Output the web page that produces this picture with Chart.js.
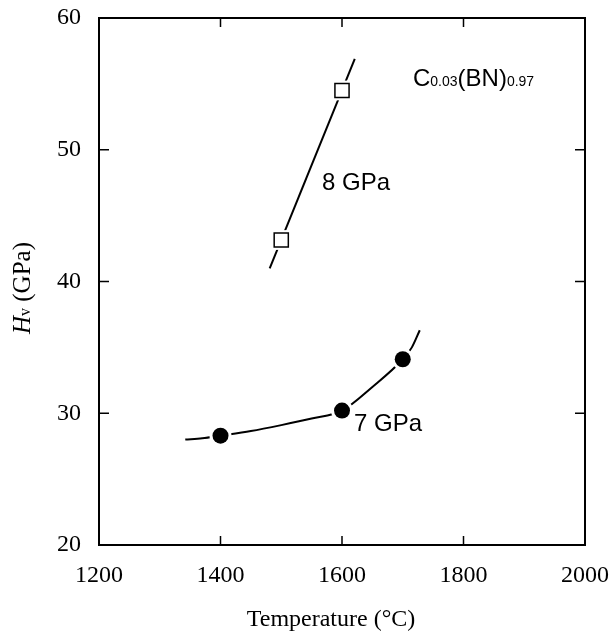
<!DOCTYPE html>
<html>
<head>
<meta charset="utf-8">
<script src="https://cdn.jsdelivr.net/npm/chart.js@4.4.1/dist/chart.umd.min.js"></script>
<style>
  html, body { margin: 0; padding: 0; background: #fff; }
  #wrap { width: 614px; height: 634px; }
</style>
</head>
<body>
<div id="wrap"><canvas id="hvChart" width="614" height="634"></canvas></div>
<script>
// measured points
var temp7 = [1400, 1600, 1700];
var hv7 = [28.3, 30.2, 34.1];
var temp8 = [1500, 1600];
var hv8 = [43.15, 54.5];

// hand-drawn fit curves
var fit7T = [1342, 1370, 1400, 1450, 1500, 1550, 1600, 1650, 1700, 1715, 1728];
var fit7H = [28.0, 28.1, 28.3, 28.65, 29.1, 29.6, 30.2, 32.0, 34.1, 35.0, 36.3];
var fit8T = [1481, 1621];
var fit8H = [41.0, 56.9];

var xTicks = [1200, 1400, 1600, 1800, 2000];
var yTicks = [20, 30, 40, 50, 60];

function pts(xs, ys) {
  return xs.map(function (x, i) { return { x: x, y: ys[i] }; });
}

var serif = '"Liberation Serif", "Times New Roman", serif';
var sans = '"Liberation Sans", Arial, sans-serif';

// inward ticks, frame and labels
var decor = {
  id: 'decor',
  afterDraw: function (chart) {
    var c = chart.ctx, a = chart.chartArea;
    var xs = chart.scales.x, ys = chart.scales.y;
    c.save();
    c.strokeStyle = '#000';
    c.lineWidth = 2;
    c.strokeRect(a.left, a.top, a.right - a.left, a.bottom - a.top);
    c.lineWidth = 1.5;
    c.beginPath();
    xTicks.slice(1, -1).forEach(function (v) {
      var px = xs.getPixelForValue(v);
      c.moveTo(px, a.bottom); c.lineTo(px, a.bottom - 9);
      c.moveTo(px, a.top); c.lineTo(px, a.top + 9);
    });
    yTicks.slice(1, -1).forEach(function (v) {
      var py = ys.getPixelForValue(v);
      c.moveTo(a.left, py); c.lineTo(a.left + 10, py);
      c.moveTo(a.right, py); c.lineTo(a.right - 10, py);
    });
    c.stroke();

    c.fillStyle = '#000';
    c.textBaseline = 'alphabetic';
    c.textAlign = 'left';

    // series labels
    c.font = '24px ' + sans;
    c.fillText('8 GPa', 322, 190);
    c.fillText('7 GPa', 354, 431);

    // composition
    var x = 413, base = 86;
    var parts = [['C', 24], ['0.03', 14], ['(BN)', 24], ['0.97', 14]];
    parts.forEach(function (p) {
      c.font = p[1] + 'px ' + sans;
      c.fillText(p[0], x, base);
      x += c.measureText(p[0]).width;
    });

    // x title
    c.font = '24px ' + serif;
    c.textAlign = 'center';
    c.fillText('Temperature (\u00B0C)', 331, 626);

    // y title (rotated)
    c.translate(30, 288);
    c.rotate(-Math.PI / 2);
    c.textAlign = 'left';
    var segs = [['H', 'italic 25px ' + serif], ['v', '16px ' + serif], [' (GPa)', '25px ' + serif]];
    var total = 0;
    segs.forEach(function (s) { c.font = s[1]; total += c.measureText(s[0]).width; });
    var tx = -total / 2;
    segs.forEach(function (s) {
      c.font = s[1];
      c.fillText(s[0], tx, 0);
      tx += c.measureText(s[0]).width;
    });
    c.restore();
  }
};

function plain(v) { return String(v); }

new Chart(document.getElementById('hvChart'), {
  type: 'scatter',
  data: {
    datasets: [
      {
        label: '7 GPa fit',
        data: pts(fit7T, fit7H),
        showLine: true,
        borderColor: '#000',
        borderWidth: 2,
        pointRadius: 0,
        cubicInterpolationMode: 'monotone',
        order: 5
      },
      {
        label: '8 GPa fit',
        data: pts(fit8T, fit8H),
        showLine: true,
        borderColor: '#000',
        borderWidth: 2,
        pointRadius: 0,
        order: 5
      },
      {
        label: '7 GPa halo',
        data: pts(temp7, hv7),
        pointStyle: 'circle',
        pointRadius: 11,
        backgroundColor: '#fff',
        borderWidth: 0,
        order: 3
      },
      {
        label: '8 GPa halo',
        data: pts(temp8, hv8),
        pointStyle: 'rect',
        pointRadius: 14,
        backgroundColor: '#fff',
        borderWidth: 0,
        order: 3
      },
      {
        label: '7 GPa',
        data: pts(temp7, hv7),
        pointStyle: 'circle',
        pointRadius: 8,
        backgroundColor: '#000',
        borderColor: '#000',
        borderWidth: 0,
        order: 1
      },
      {
        label: '8 GPa',
        data: pts(temp8, hv8),
        pointStyle: 'rect',
        pointRadius: 10,
        backgroundColor: '#fff',
        borderColor: '#000',
        borderWidth: 1.5,
        order: 1
      }
    ]
  },
  options: {
    responsive: false,
    animation: false,
    events: [],
    layout: { padding: { top: 18, right: 29, left: 0, bottom: 0 } },
    plugins: {
      legend: { display: false },
      tooltip: { enabled: false }
    },
    scales: {
      x: {
        type: 'linear',
        min: 1200,
        max: 2000,
        afterBuildTicks: function (s) { s.ticks = xTicks.map(function (v) { return { value: v }; }); },
        afterFit: function (s) { s.height = 89; s.paddingLeft = 0; s.paddingRight = 0; },
        grid: { display: false, drawTicks: false },
        border: { display: false },
        ticks: {
          padding: 16,
          color: '#000',
          callback: plain,
          font: { family: serif, size: 24 }
        }
      },
      y: {
        type: 'linear',
        min: 20,
        max: 60,
        afterBuildTicks: function (s) { s.ticks = yTicks.map(function (v) { return { value: v }; }); },
        afterFit: function (s) { s.width = 99; s.paddingTop = 0; s.paddingBottom = 0; },
        grid: { display: false, drawTicks: false },
        border: { display: false },
        ticks: {
          padding: 18,
          color: '#000',
          callback: plain,
          font: { family: serif, size: 24 }
        }
      }
    }
  },
  plugins: [decor]
});
</script>
</body>
</html>
